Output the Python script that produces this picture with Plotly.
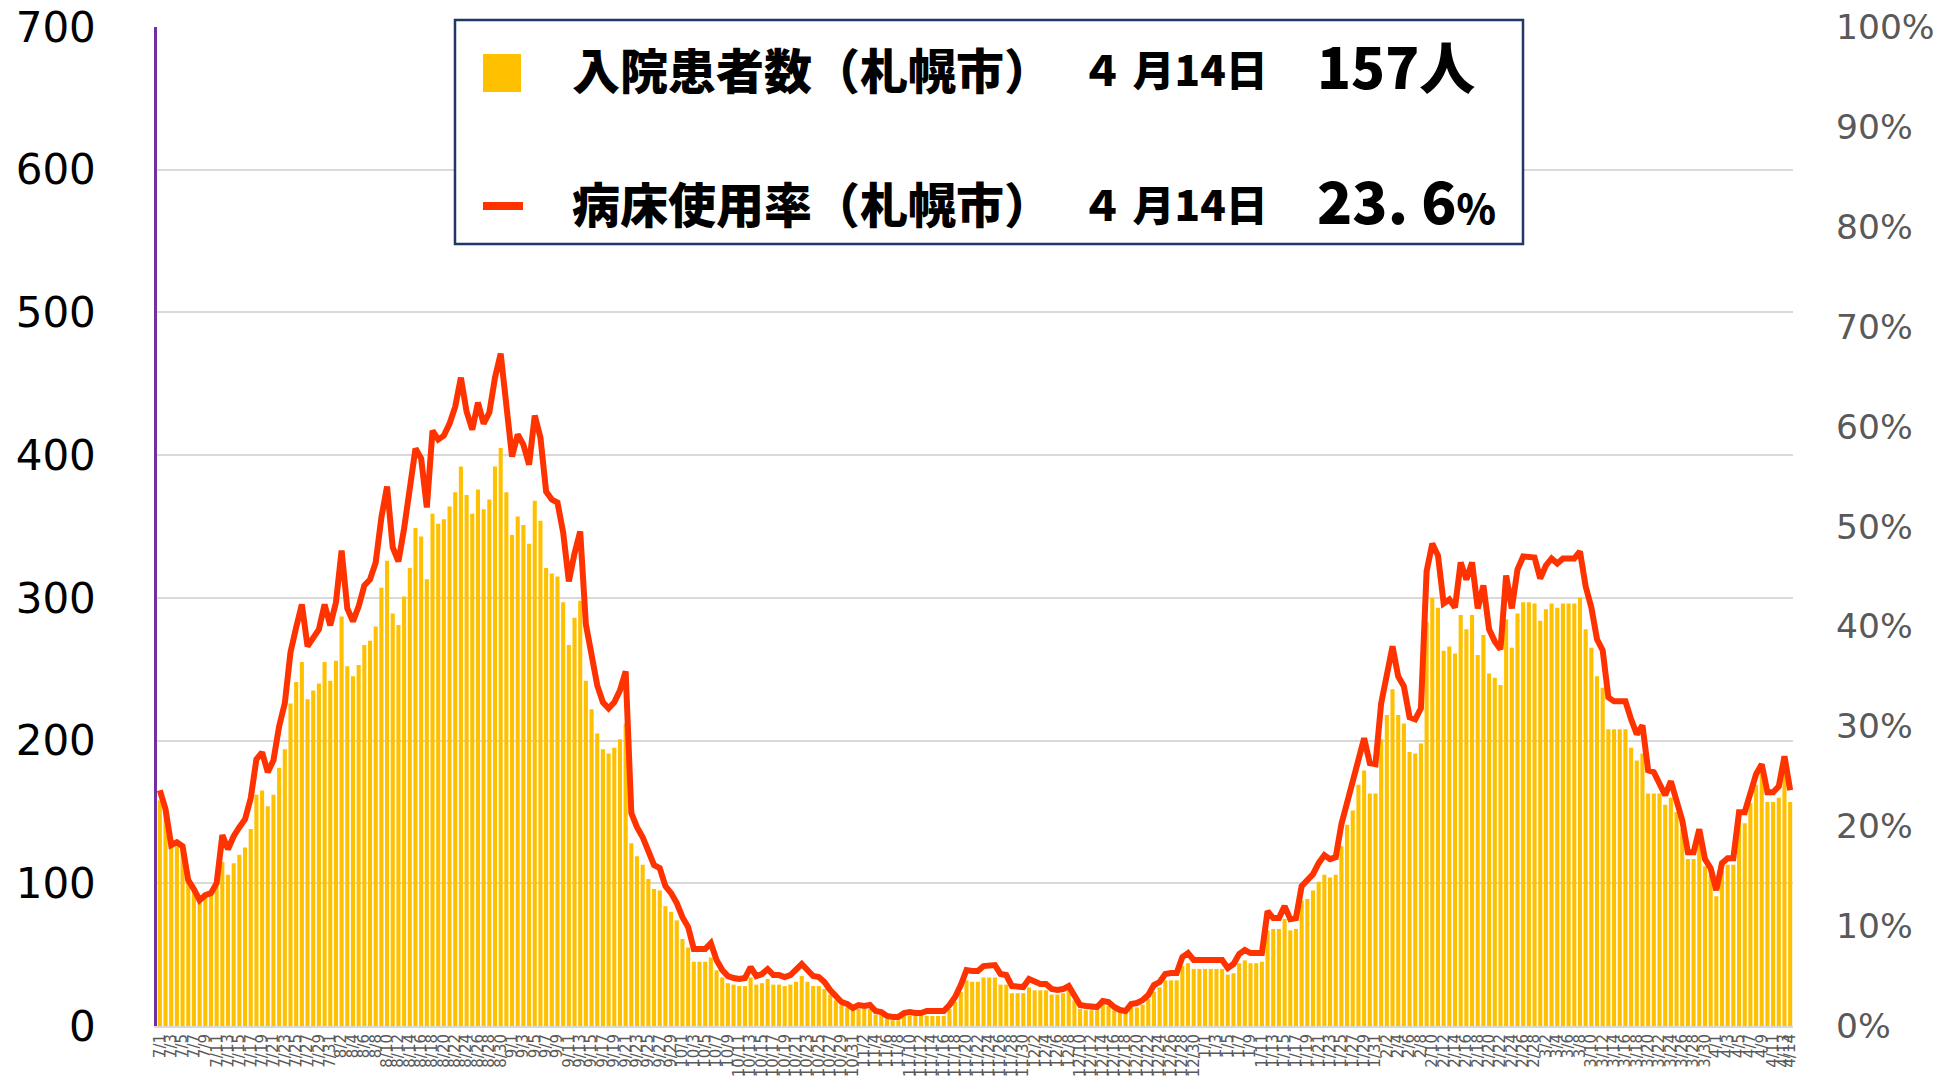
import plotly.graph_objects as go
import pandas as pd

# ---------------- data ----------------
dates = pd.date_range("2021-07-01", "2022-04-14")
date_labels = [f"{d.month}/{d.day}" for d in dates]

inpatients = [
    158, 148, 126, 126, 124, 103, 97, 90, 92, 93, 98,
    115, 106, 114, 120, 125, 138, 162, 165, 154, 162,
    181, 194, 226, 241, 255, 229, 235, 240, 255, 242,
    256, 287, 252, 245, 253, 267, 270, 280, 307, 326,
    289, 281, 301, 321, 349, 343, 313,
    359, 352, 355, 364, 374, 392, 372, 359, 376, 362,
    369, 392, 405, 374, 344, 357, 351, 338, 368, 354,
    321, 317, 315, 297, 267, 286, 298, 242, 222, 205,
    194, 191, 195, 201, 212, 128, 119, 113, 103, 96,
    95, 84, 80, 74, 61, 55, 45, 45, 45,
    48, 39, 34, 30, 29, 28, 28, 34, 29, 30,
    33, 29, 29, 28, 29, 31, 35, 31, 28, 28,
    26, 22, 18, 15, 13, 11, 12, 12, 12, 8,
    8, 5, 4, 4, 7, 7, 7, 7, 7, 7, 7, 7,
    12, 17, 24, 32, 31, 31, 34, 34,
    34, 29, 29, 23, 23, 23, 27, 25, 25, 25,
    22, 22, 23, 25, 18, 12, 11, 11, 11, 15,
    14, 11, 9, 9, 13, 13, 15, 19, 24, 27,
    32, 32, 32, 42, 44, 40, 40, 40, 40, 40,
    40, 36, 37, 44, 46, 44, 44, 45, 67,
    68, 68, 75, 67, 68, 88, 89, 95, 101, 106,
    104, 106, 126, 141, 151, 169, 179, 163, 163, 201,
    218, 236, 218, 212, 192, 191, 198, 283, 300, 293,
    263, 266, 261, 288, 278, 288, 260, 274, 247, 244,
    239, 285, 265, 289, 297, 297, 296, 284, 292, 296,
    293, 296, 296, 296, 300, 278, 265, 245, 237, 208,
    208, 208, 208, 195, 186, 191, 163, 163, 163, 155,
    160, 150, 138, 117, 117, 128, 112, 106, 91, 109,
    113, 113, 145, 142, 156, 169, 177, 157, 157, 160, 179, 157,
]

bed_rate = [
    23.6, 21.7, 18.1, 18.4, 18.0, 14.6, 13.7, 12.6, 13.1, 13.3, 14.3,
    19.1, 17.7, 19.0, 19.9, 20.7, 22.8, 26.7, 27.4, 25.4, 26.6,
    30.0, 32.3, 37.4, 39.9, 42.2, 38.0, 38.8, 39.7, 42.2, 40.1,
    42.4, 47.6, 41.8, 40.5, 42.0, 44.1, 44.7, 46.4, 50.9, 54.0,
    47.9, 46.5, 49.8, 53.4, 57.8, 56.8, 51.9,
    59.6, 58.7, 59.1, 60.3, 62.0, 64.9, 61.5, 59.7, 62.4, 60.3,
    61.4, 64.9, 67.3, 62.0, 57.0, 59.2, 58.2, 56.2, 61.1, 58.9,
    53.5, 52.7, 52.4, 49.4, 44.5, 47.3, 49.5, 40.2, 37.1, 34.1,
    32.4, 31.8, 32.4, 33.6, 35.5, 21.3, 19.9, 18.9, 17.5, 16.1,
    15.8, 14.0, 13.3, 12.3, 10.9, 9.9, 7.7, 7.7, 7.7,
    8.3, 6.6, 5.6, 5.0, 4.8, 4.7, 4.8, 5.9, 5.0, 5.2,
    5.7, 5.1, 5.1, 4.9, 5.1, 5.6, 6.2, 5.6, 5.0, 4.9,
    4.4, 3.6, 2.9, 2.4, 2.2, 1.8, 2.1, 2.0, 2.1, 1.5,
    1.4, 1.0, 0.9, 0.9, 1.3, 1.4, 1.3, 1.3, 1.5, 1.5, 1.5, 1.5,
    2.1, 2.9, 4.1, 5.6, 5.5, 5.5, 6.0, 6.1,
    6.1, 5.2, 5.1, 4.0, 3.9, 3.9, 4.7, 4.5, 4.2, 4.2,
    3.7, 3.6, 3.7, 4.0, 3.1, 2.1, 2.0, 1.9, 1.9, 2.5,
    2.4, 1.9, 1.6, 1.5, 2.2, 2.3, 2.6, 3.1, 4.1, 4.4,
    5.2, 5.3, 5.3, 6.9, 7.3, 6.6, 6.6, 6.6, 6.6, 6.6,
    6.6, 5.8, 6.2, 7.2, 7.6, 7.3, 7.3, 7.3, 11.5,
    10.8, 10.8, 12.0, 10.7, 10.8, 14.0, 14.6, 15.2, 16.3, 17.1,
    16.7, 16.9, 20.2, 22.5, 24.4, 27.1, 28.8, 26.3, 26.2, 32.3,
    35.2, 38.0, 35.0, 34.0, 30.9, 30.7, 31.8, 45.5, 48.3, 47.1,
    42.3, 42.7, 41.9, 46.4, 44.7, 46.4, 41.8, 44.1, 39.7, 38.5,
    37.7, 45.1, 41.8, 45.7, 47.0, 47.0, 46.9, 44.8, 46.1, 46.8,
    46.3, 46.8, 46.8, 46.8, 47.5, 44.0, 41.9, 38.7, 37.6, 32.9,
    32.5, 32.5, 32.5, 30.7, 29.2, 30.1, 25.6, 25.4, 24.3, 23.1,
    24.5, 22.7, 20.6, 17.4, 17.4, 19.7, 16.7, 15.8, 13.6, 16.3,
    16.8, 16.8, 21.4, 21.4, 23.3, 25.2, 26.2, 23.4, 23.4, 24.0, 27.0, 23.6,
]

assert len(inpatients) == len(date_labels) == len(bed_rate), (len(inpatients), len(bed_rate), len(date_labels))

left_ticks = list(range(0, 701, 100))
right_ticks = list(range(0, 101, 10))
right_tick_labels = [f"{v}%" for v in right_ticks]
x_ticks = date_labels[::2] + [date_labels[-1]]

legend_name_bar = "入院患者数（札幌市）"
legend_name_line = "病床使用率（札幌市）"
legend_date = f"４ 月{dates[-1].day}日"

# ---------------- figure ----------------
W, H = 1939, 1090
ML, MR, MT, MB = 157, 146, 27, 64
PW, PH = W - ML - MR, H - MT - MB


def px(x):
    return (x - ML) / PW


def py(y):
    return (H - MB - y) / PH


fig = go.Figure()
fig.add_trace(go.Bar(
    x=date_labels, y=inpatients, marker=dict(color="#FFC000", line=dict(width=0)),
    yaxis="y", name=legend_name_bar,
))
fig.add_trace(go.Scatter(
    x=date_labels, y=bed_rate, mode="lines",
    line=dict(color="#FF3300", width=6), yaxis="y2", name=legend_name_line,
))

JP = "Noto Sans CJK JP Black, Noto Sans CJK JP, sans-serif"

shapes = [
    dict(type="rect", xref="paper", yref="paper",
         x0=px(455), x1=px(1523), y0=py(244), y1=py(20),
         line=dict(color="#203864", width=2.5), fillcolor="white", layer="above"),
    dict(type="rect", xref="paper", yref="paper",
         x0=px(483), x1=px(521), y0=py(92), y1=py(54),
         line=dict(width=0), fillcolor="#FFC000", layer="above"),
    dict(type="rect", xref="paper", yref="paper",
         x0=px(483), x1=px(523), y0=py(210), y1=py(202),
         line=dict(width=0), fillcolor="#FF3300", layer="above"),
]


def ann(text, x, y, size):
    return dict(text=text, xref="paper", yref="paper", x=px(x), y=py(y),
                xanchor="left", yanchor="middle", showarrow=False,
                font=dict(family=JP, size=size, color="black", weight=900))


rate_text = f"{bed_rate[-1]:.1f}".replace(".", ". ") + "<span style='font-size:40px'>%</span>"

annotations = [
    ann(legend_name_bar, 570, 68, 48),
    ann(legend_date, 1079, 68, 42),
    ann(f"{inpatients[-1]}人", 1315, 64, 56),
    ann(legend_name_line, 570, 202, 48),
    ann(legend_date, 1079, 202, 42),
    ann(rate_text, 1315, 199, 58),
]

fig.update_layout(
    width=W, height=H,
    margin=dict(l=ML, r=MR, t=MT, b=MB, pad=0),
    paper_bgcolor="white", plot_bgcolor="white",
    showlegend=False, bargap=0.28,
    font=dict(family="DejaVu Sans, sans-serif"),
    xaxis=dict(
        type="category", range=[-0.5, len(date_labels) - 0.5],
        tickmode="array", tickvals=x_ticks, ticktext=x_ticks,
        tickangle=-90, tickfont=dict(size=15, color="#595959", family="DejaVu Sans"),
        showgrid=False, showline=True, linecolor="#D9D9D9", linewidth=2,
        ticks="", zeroline=False, automargin=False,
    ),
    yaxis=dict(
        range=[0, 700], tickmode="array", tickvals=left_ticks,
        showgrid=True, gridcolor="#D9D9D9", gridwidth=1.5,
        showline=True, linecolor="#7030A0", linewidth=2.5,
        tickfont=dict(size=42, color="black", family="DejaVu Sans"),
        ticklabelstandoff=50, zeroline=False, ticks="", automargin=False,
    ),
    yaxis2=dict(
        overlaying="y", side="right", range=[0, 100],
        tickmode="array", tickvals=right_ticks, ticktext=right_tick_labels,
        showgrid=False, showline=False, zeroline=False,
        tickfont=dict(size=34.5, color="#595959", family="DejaVu Sans"),
        ticklabelstandoff=42, ticks="", automargin=False,
    ),
    shapes=shapes, annotations=annotations,
)

fig.write_html("out.html", config={"displayModeBar": False},
               post_script="document.body.style.margin='0';")
